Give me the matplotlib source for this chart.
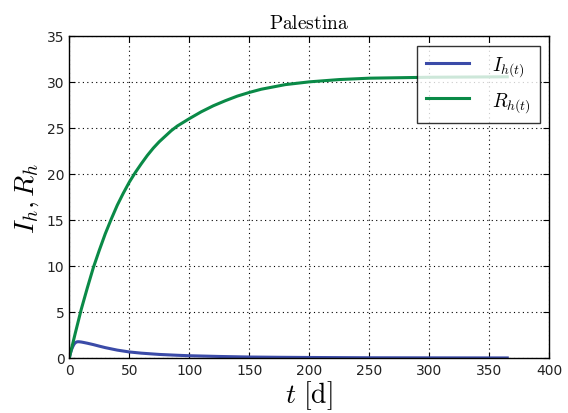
import numpy as np
import matplotlib
matplotlib.use('Agg')
import matplotlib.pyplot as plt

plt.rcParams['mathtext.fontset'] = 'cm'

# dni i odczytane wartosci I_h(t), R_h(t)
t_I = [0, 1, 2, 3, 4, 5, 6, 7, 8, 10, 12, 15, 20, 25, 30, 40, 50, 60, 75, 90, 100,
       125, 150, 175, 200, 250, 300, 365]
I_h = [0.0, 0.55, 0.95, 1.25, 1.5, 1.65, 1.73, 1.76, 1.76, 1.73, 1.68, 1.6, 1.45,
       1.28, 1.12, 0.85, 0.65, 0.52, 0.38, 0.29, 0.24, 0.16, 0.1, 0.07, 0.05,
       0.02, 0.01, 0.0]

t_R = [0, 5, 10, 15, 20, 25, 30, 35, 40, 45, 50, 55, 60, 65, 70, 75, 80, 85, 90,
       100, 110, 120, 130, 140, 150, 160, 170, 180, 190, 200, 225, 250, 275, 300, 365]
R_h = [0.0, 2.7, 5.3, 7.6, 9.8, 11.7, 13.5, 15.1, 16.6, 17.9, 19.1, 20.15, 21.1,
       22.0, 22.8, 23.5, 24.1, 24.7, 25.2, 26.0, 26.75, 27.4, 27.95, 28.45, 28.85,
       29.2, 29.45, 29.7, 29.85, 30.0, 30.25, 30.4, 30.45, 30.5, 30.55]

fig = plt.figure(figsize=(5.68, 4.14), dpi=100)
ax = fig.add_axes([0.122, 0.133, 0.845, 0.778])

ax.plot(t_I, I_h, color='#3b4ba8', lw=2.2, label=r'$I_{h(t)}$')
ax.plot(t_R, R_h, color='#0a8a47', lw=2.2, label=r'$R_{h(t)}$')

ax.set_xlim(0, 400)
ax.set_ylim(0, 35)
ax.set_xticks(np.arange(0, 401, 50))
ax.set_yticks(np.arange(0, 36, 5))
ax.grid(True, color='black', linestyle=(0, (1, 3)), linewidth=0.8)
ax.tick_params(direction='in', top=True, right=True, labelsize=10,
               labelcolor='#222222', length=4)
for s in ax.spines.values():
    s.set_linewidth(1.0)

ax.set_title(r'$\mathrm{Palestina}$', fontsize=14)
ax.set_xlabel(r'$t\ [\mathrm{d}]$', fontsize=20, labelpad=1)
ax.set_ylabel(r'$I_h, R_h$', fontsize=20)

leg = ax.legend(loc='upper right', fontsize=14, fancybox=False,
                borderaxespad=0.5, handlelength=2.2, labelspacing=0.6,
                borderpad=0.45, handletextpad=1.2)
leg.get_frame().set_edgecolor('black')
leg.get_frame().set_linewidth(1.0)

fig.savefig('out.png', dpi=100)
